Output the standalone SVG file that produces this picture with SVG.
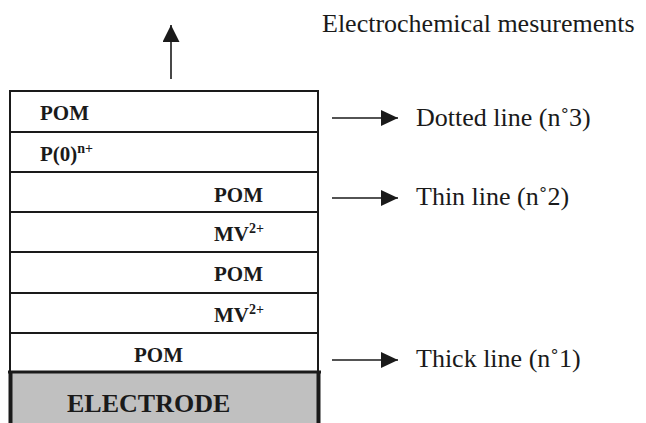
<svg xmlns="http://www.w3.org/2000/svg" width="646" height="423" viewBox="0 0 646 423">
<style>
.layer{fill:#fff;stroke:#1a1a1a;stroke-width:2}
.lbl{font-family:"Liberation Serif","Times New Roman",serif;font-weight:bold;font-size:21px;fill:#1a1a1a}
.sup{font-size:14px}
.note{font-family:"Liberation Serif","Times New Roman",serif;font-size:26px;fill:#1a1a1a}
.conn{stroke:#1a1a1a;stroke-width:1.6;fill:none}
</style>
<defs>
<marker id="ah" markerUnits="userSpaceOnUse" markerWidth="18" markerHeight="16" refX="17" refY="8" orient="auto">
<path d="M0,0 L17,8 L0,16 z" fill="#1a1a1a"/>
</marker>
<marker id="ahUp" markerUnits="userSpaceOnUse" markerWidth="18" markerHeight="18" refX="17" refY="8.5" orient="auto">
<path d="M0,0 L17,8.5 L0,17 z" fill="#1a1a1a"/>
</marker>
</defs>
<g id="layer7"><rect class="layer" x="10" y="91" width="308" height="41"/><text class="lbl" x="40" y="120">POM</text></g>
<g id="layer6"><rect class="layer" x="10" y="132" width="308" height="40"/><text class="lbl" x="40" y="161">P(0)<tspan class="sup" dy="-8">n+</tspan></text></g>
<g id="layer5"><rect class="layer" x="10" y="172" width="308" height="40"/><text class="lbl" x="214" y="202">POM</text></g>
<g id="layer4"><rect class="layer" x="10" y="212" width="308" height="40"/><text class="lbl" x="214" y="241">MV<tspan class="sup" dy="-8">2+</tspan></text></g>
<g id="layer3"><rect class="layer" x="10" y="252" width="308" height="41"/><text class="lbl" x="214" y="281">POM</text></g>
<g id="layer2"><rect class="layer" x="10" y="293" width="308" height="40"/><text class="lbl" x="214" y="322">MV<tspan class="sup" dy="-8">2+</tspan></text></g>
<g id="layer1"><rect class="layer" x="10" y="333" width="308" height="39"/><text class="lbl" x="134" y="362">POM</text></g>
<g id="electrode">
<rect x="10" y="372" width="309" height="60" fill="#c0c0c0"/>
<line x1="8" y1="372" x2="321" y2="372" stroke="#1a1a1a" stroke-width="3"/>
<line x1="10.5" y1="371" x2="10.5" y2="423" stroke="#1a1a1a" stroke-width="4"/>
<line x1="318.5" y1="371" x2="318.5" y2="423" stroke="#1a1a1a" stroke-width="4"/>
<text class="lbl" x="67" y="412" style="font-size:26px">ELECTRODE</text>
</g>
<g id="connectors">
<line class="conn" x1="171" y1="79" x2="171" y2="25" marker-end="url(#ahUp)"/>
<line class="conn" x1="332" y1="118" x2="398" y2="118" marker-end="url(#ah)"/>
<line class="conn" x1="332" y1="198" x2="398" y2="198" marker-end="url(#ah)"/>
<line class="conn" x1="332" y1="360" x2="398" y2="360" marker-end="url(#ah)"/>
</g>
<g id="labels">
<text class="note" x="322" y="32">Electrochemical mesurements</text>
<text class="note" x="416" y="126">Dotted line (n˚3)</text>
<text class="note" x="416" y="205">Thin line (n˚2)</text>
<text class="note" x="416" y="367">Thick line (n˚1)</text>
</g>
</svg>
